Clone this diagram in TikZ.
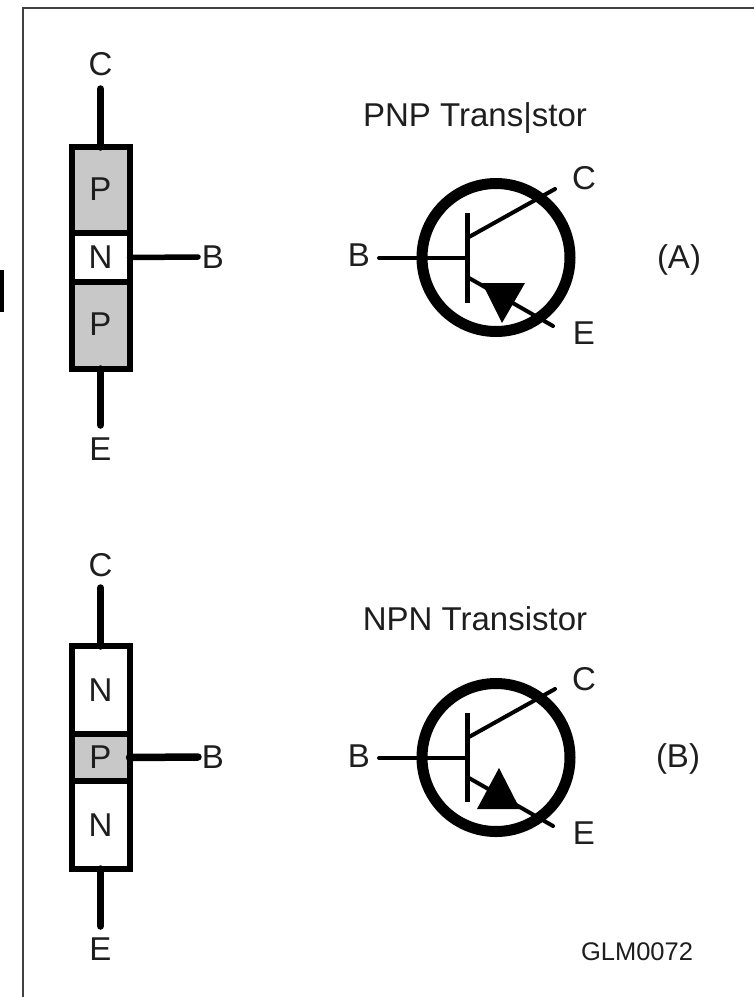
\documentclass[tikz,border=0pt]{standalone}
\usepackage{fontspec}
\setmainfont{Liberation Sans}
\definecolor{dopegray}{HTML}{C8C8C8}
\definecolor{inkgray}{HTML}{1E1E1E}
\begin{document}
\begin{tikzpicture}[x=1pt,y=-1pt,line cap=butt]
  \def\fx{100.5}
  \def\fy{500}

\tikzstyle{layer}=[rectangle,draw=black,line width=6pt,minimum width=58pt,inner sep=0pt,outer sep=0pt,text=inkgray,font=\fontsize{33}{33}\selectfont]
\tikzstyle{lbl}=[inner sep=0pt,text=inkgray,font=\fontsize{33}{33}\selectfont]
\tikzstyle{ring}=[circle,draw=black,line width=11pt,minimum size=148pt,inner sep=0pt,outer sep=0pt]
\tikzstyle{lead}=[black,line width=7.5pt,line cap=round]
\tikzstyle{thin}=[black,line width=4pt]
\useasboundingbox (0,0) rectangle (754,997);

% frame
\coordinate (F1) at (23,997);
\coordinate (F2) at (23,8);
\coordinate (F3) at (754,8);
\draw[line width=2.5pt,black!75] (F1) -- (F2) -- (F3);
\coordinate (T1) at (2,270);
\coordinate (T2) at (2,312);
\draw[line width=4pt] (T1) -- (T2);

% PNP stack
\node[layer,fill=dopegray,minimum height=86pt] (P1) at (\fx,190) {\raisebox{1.5pt}{P}};
\node[layer,fill=white,minimum height=49pt] (P2) at (\fx,257.5) {N};
\node[layer,fill=dopegray,minimum height=87pt] (P3) at (\fx,325.5) {\raisebox{3.5pt}{P}};
\node[lbl] (PC) at (\fx,64) {C};
\node[lbl] (PE) at (\fx,449) {E};
\node[lbl] (PB) at (213,257) {B};
\coordinate (PC1) at (\fx,89);
\coordinate (PE1) at (\fx,425);
\coordinate (PB1) at (198,257);
\draw[lead] (PC1) -- (P1.north);
\draw[lead] (PE1) -- (P3.south);
\draw[lead,line width=5.5pt] (PB1) -- (P2.east);

% NPN stack
\node[layer,fill=white,minimum height=88pt] (N1) at (\fx,690) {N};
\node[layer,fill=dopegray,minimum height=47pt] (N2) at (\fx,757.5) {P};
\node[layer,fill=white,minimum height=88pt] (N3) at (\fx,825) {N};
\node[lbl] (NC) at (\fx,565) {C};
\node[lbl] (NE) at (\fx,949) {E};
\node[lbl] (NB) at (213,757) {B};
\coordinate (NC1) at (\fx,588);
\coordinate (NE1) at (\fx,926);
\coordinate (NB1) at (198,757);
\draw[lead] (NC1) -- (N1.north);
\draw[lead] (NE1) -- (N3.south);
\draw[lead] (NB1) -- (N2.east);

% PNP symbol
\node[lbl] (Ptitle) at (475,118) {PNP Trans|stor};
\node[ring] (Pring) at (496,257.5) {};
\node[lbl] (Pb) at (359,255) {B};
\node[lbl] (Pc) at (584,178) {C};
\node[lbl] (Pe) at (584,333) {E};
\node[lbl] (Pa) at (679,260) {(A)};
\coordinate (Pbar1) at (467,213);
\coordinate (Pbar2) at (467,303);
\coordinate (Pbase) at (467,258);
\coordinate (Pin) at (379,258);
\coordinate (Pc1) at (469,237);
\coordinate (Pc2) at (555,189);
\coordinate (Pe1) at (469,278);
\coordinate (Pe2) at (553,326);
\draw[thin,line width=5pt] (Pbar1) -- (Pbar2);
\draw[thin,line cap=round] (Pin) -- (Pbase);
\draw[thin,line cap=round] (Pc1) -- (Pc2);
\draw[thin,line cap=round] (Pe1) -- (Pe2);
\fill (482,283) -- (525,283) -- (502,323) -- cycle;

% NPN symbol
\node[lbl] (Ntitle) at (475,619) {NPN Transistor};
\node[ring] (Nring) at (496,757.5) {};
\node[lbl] (Nb) at (359,756) {B};
\node[lbl] (Nc) at (584,679) {C};
\node[lbl] (Ne) at (584,833) {E};
\node[lbl] (Na) at (678,759) {(B)};
\coordinate (Nbar1) at (467,713);
\coordinate (Nbar2) at (467,802);
\coordinate (Nbase) at (467,758);
\coordinate (Nin) at (379,758);
\coordinate (Nc1) at (469,737);
\coordinate (Nc2) at (555,689);
\coordinate (Ne1) at (469,778);
\coordinate (Ne2) at (553,826);
\draw[thin,line width=5pt] (Nbar1) -- (Nbar2);
\draw[thin,line cap=round] (Nin) -- (Nbase);
\draw[thin,line cap=round] (Nc1) -- (Nc2);
\draw[thin,line cap=round] (Ne1) -- (Ne2);
\fill (499,768) -- (520,809) -- (477,809) -- cycle;

\node[lbl,font=\fontsize{25.5}{25.5}\selectfont] (Gid) at (637,952) {GLM0072};
\end{tikzpicture}
\end{document}
